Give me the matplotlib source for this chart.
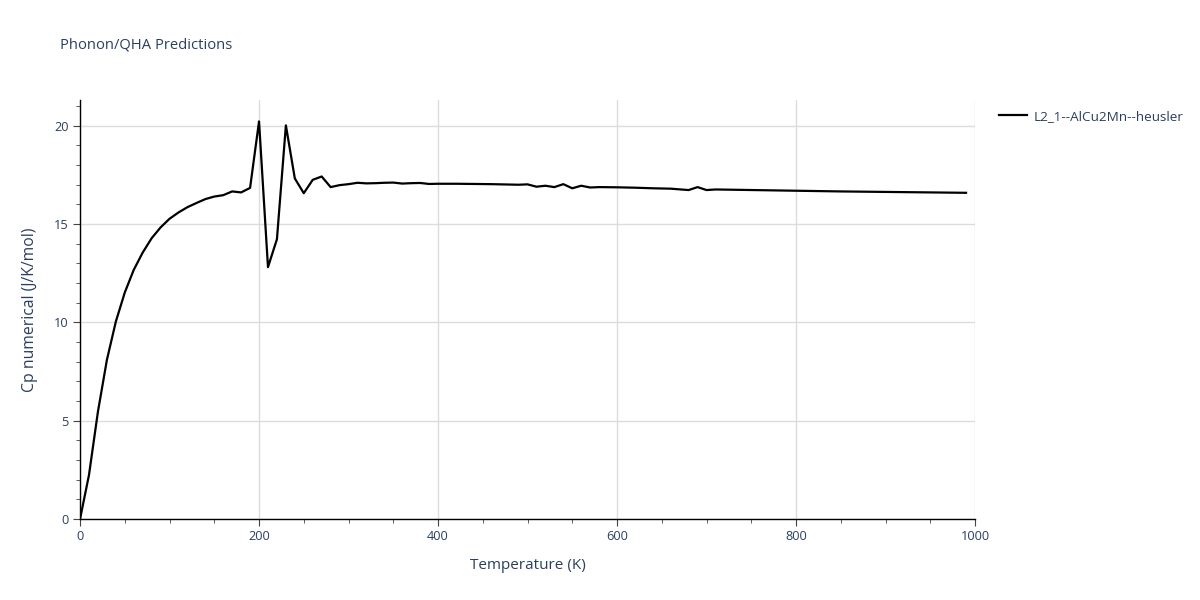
import matplotlib
matplotlib.use("Agg")
import matplotlib.pyplot as plt
from matplotlib.ticker import MultipleLocator

# temperature (K) and heat capacity
temperature = [0, 10, 20, 30, 40, 50, 60, 70, 80, 90,
               100, 110, 120, 130, 140, 150, 160, 170, 180, 190,
               200, 210, 220, 230, 240, 250, 260, 270, 280, 290,
               300, 310, 320, 330, 340, 350, 360, 370, 380, 390,
               400, 410, 420, 440, 460, 480, 490, 500, 510, 520,
               530, 540, 550, 560, 570, 580, 600, 620, 640, 660,
               680, 690, 700, 710, 850, 990]
cp = [0.0, 2.24, 5.46, 8.09, 10.04, 11.52, 12.67, 13.55, 14.28, 14.83,
      15.27, 15.59, 15.86, 16.07, 16.27, 16.40, 16.47, 16.66, 16.61, 16.84,
      20.22, 12.81, 14.23, 20.02, 17.32, 16.57, 17.25, 17.42, 16.88, 16.98,
      17.03, 17.10, 17.07, 17.08, 17.10, 17.11, 17.06, 17.08, 17.09, 17.04,
      17.05, 17.05, 17.05, 17.04, 17.03, 17.01, 17.00, 17.02, 16.90, 16.95,
      16.88, 17.03, 16.82, 16.95, 16.86, 16.88, 16.87, 16.85, 16.82, 16.80,
      16.73, 16.88, 16.73, 16.76, 16.66, 16.59]
series_name = "L2_1--AlCu2Mn--heusler"

text_color = "#2a3f5f"
plt.rcParams['font.family'] = ['Open Sans', 'DejaVu Sans']

fig = plt.figure(figsize=(12, 6), dpi=100)
ax = fig.add_axes([0.0667, 0.135, 0.7458, 0.698])

ax.plot(temperature, cp, color='black', linewidth=1.6, label=series_name)

ax.set_xlim(0, 1000)
ax.set_ylim(0, 21.3)
ax.xaxis.set_major_locator(MultipleLocator(200))
ax.xaxis.set_minor_locator(MultipleLocator(50))
ax.yaxis.set_major_locator(MultipleLocator(5))
ax.yaxis.set_minor_locator(MultipleLocator(1))

ax.grid(True, which='major', color='#dcdcdc', linewidth=1)
ax.set_axisbelow(True)
for side in ['top', 'right']:
    ax.spines[side].set_visible(False)
for side in ['left', 'bottom']:
    ax.spines[side].set_color('black')
    ax.spines[side].set_linewidth(1)

ax.tick_params(which='major', direction='out', length=5, color='#444444',
               labelsize=9.2, labelcolor=text_color, pad=3)
ax.tick_params(which='minor', direction='out', length=3, color='#444444')

ax.set_xlabel('Temperature (K)', fontsize=11, color=text_color, labelpad=11)
ax.set_ylabel('Cp numerical (J/K/mol)', fontsize=11.3, color=text_color, labelpad=12)

fig.text(60 / 1200, 1 - 45 / 600, 'Phonon/QHA Predictions', fontsize=10.6,
         color=text_color, va='center', ha='left')

leg = ax.legend(loc='upper left', bbox_to_anchor=(1.021, 0.99), frameon=False,
                fontsize=9.7, handlelength=2.1, handletextpad=0.45,
                borderaxespad=0)
for t in leg.get_texts():
    t.set_color(text_color)

fig.savefig('out.png', dpi=100)
